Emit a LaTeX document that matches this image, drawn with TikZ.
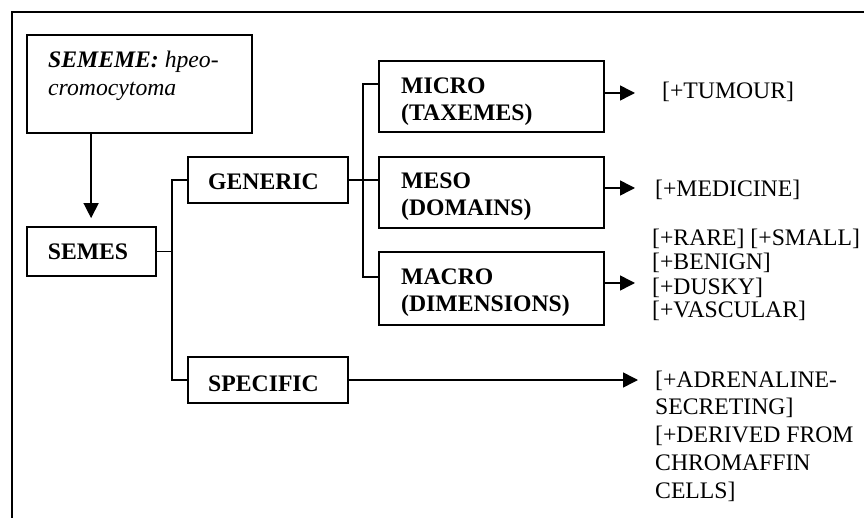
\documentclass[tikz,border=0pt]{standalone}
\usepackage{fontspec}
\setmainfont{Liberation Serif}
\usetikzlibrary{arrows.meta,calc}
\begin{document}
\begin{tikzpicture}[x=1pt,y=-1pt,
  box/.style={draw,line width=1.8pt,rectangle,inner sep=0pt},
  boxtext/.style={anchor=base west,inner sep=0pt,align=left,
    font=\fontsize{23.7}{27}\selectfont\bfseries},
  feat/.style={anchor=base west,inner sep=0pt,align=left,
    font=\fontsize{23.7}{24}\selectfont},
  link/.style={line width=1.5pt},
  arr/.style={link,-{Triangle[length=15pt,width=15pt]}}]

\useasboundingbox (0,0) rectangle (864,518);

% outer frame (open to the right and bottom)
\draw[line width=2pt] (12,518) -- (12,12) -- (864,12);

% boxes
\node[box,minimum width=225pt,minimum height=98pt] (sememe)   at (139.5,84)  {};
\node[box,minimum width=129pt,minimum height=49pt] (semes)    at (91.5,251.5) {};
\node[box,minimum width=160pt,minimum height=46pt] (generic)  at (268,180)   {};
\node[box,minimum width=160pt,minimum height=46pt] (specific) at (268,380)   {};
\node[box,minimum width=225pt,minimum height=71pt] (micro)    at (491.5,96.5) {};
\node[box,minimum width=225pt,minimum height=71pt] (meso)     at (491.5,192.5) {};
\node[box,minimum width=225pt,minimum height=73pt] (macro)    at (491.5,288.5) {};

% box captions (multi-line nodes are placed by the baseline of their last line)
\node[boxtext,font=\fontsize{23.7}{28}\selectfont\itshape] (sememeTxt) at (48,96)
  {\textbf{SEMEME:} hpeo-\\cromocytoma};
\node[inner sep=0pt,font=\fontsize{23.7}{27}\selectfont\bfseries] (semesTxt)
  at ([xshift=-3.5pt]semes.center) {SEMES};
\node[boxtext] (genericTxt)  at (208,190) {GENERIC};
\node[boxtext] (specificTxt) at (208,391) {SPECIFIC};
\node[boxtext] (microTxt) at (401,121) {MICRO\\(TAXEMES)};
\node[boxtext] (mesoTxt)  at (401,216) {MESO\\(DOMAINS)};
\node[boxtext] (macroTxt) at (401,312) {MACRO\\(DIMENSIONS)};

% sememe -> semes
\draw[arr] ($(sememe.south west)+(65,0)$) -- ($(semes.north west)+(65,-8)$);

% semes -> generic / specific
\coordinate (j1) at (172,251.5);
\draw[link] (semes.east) -- (j1);
\draw[link] (generic.west) -| (j1) |- (specific.west);

% generic -> micro / meso / macro
\coordinate (j2) at (363,180);
\draw[link] (generic.east) -- (j2);
\draw[link] ($(micro.west)+(0,-12.5)$) -| (j2) |- ($(macro.west)+(0,-11.5)$);
\draw[link] (j2) -- ($(meso.west)+(0,-12.5)$);

% feature labels
\node[feat] (tumour)   at (662,99)  {[+TUMOUR]};
\node[feat] (medicine) at (655,197) {[+MEDICINE]};
\node[feat] (macroF)   at (652,318)
  {[+RARE] [+SMALL]\\{[+BENIGN]}\\{[+DUSKY]}\\{[+VASCULAR]}};
\node[feat,font=\fontsize{23.7}{27.7}\selectfont] (specificF) at (655,498)
  {[+ADRENALINE-\\SECRETING]\\{[+DERIVED FROM}\\CHROMAFFIN\\CELLS]};

% arrows to features
\coordinate (a1) at (635,93);
\coordinate (a2) at (635,188);
\coordinate (a3) at (635,283);
\coordinate (a4) at (638,380);
\draw[arr] (micro.east |- a1) -- (a1);
\draw[arr] (meso.east |- a2) -- (a2);
\draw[arr] (macro.east |- a3) -- (a3);
\draw[arr] (specific.east) -- (a4);
\end{tikzpicture}
\end{document}
